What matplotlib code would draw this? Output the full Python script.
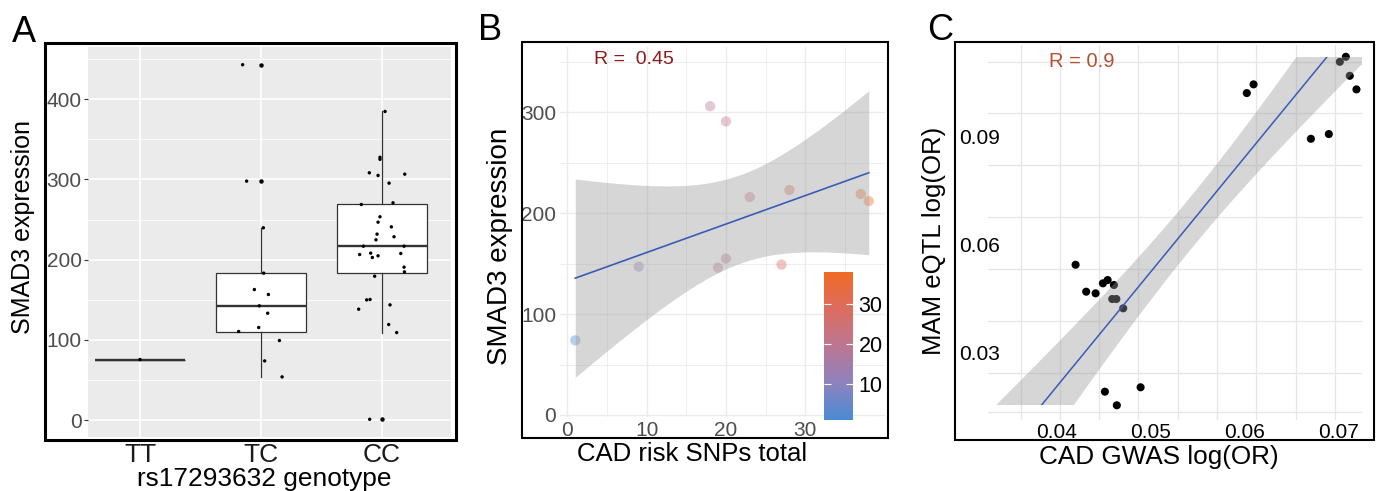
import numpy as np
import matplotlib
matplotlib.use("Agg")
import matplotlib.pyplot as plt
from matplotlib.patches import Rectangle
from matplotlib.colors import LinearSegmentedColormap, Normalize
from matplotlib.cm import ScalarMappable

plt.rcParams['font.family'] = ['Liberation Sans', 'DejaVu Sans']

# ---------------- Data ----------------
# Panel A: SMAD3 expression by genotype
genotypes = ["TT", "TC", "CC"]
tt_vals = [75.6]
tt_jit = [0.0]
tc_vals = [442.8, 297.8, 239.7, 183.2, 162.8, 156.6, 142.5, 133.3, 115.5, 110.5, 99.3, 73.9, 54.0]
tc_jit = [-0.152, -0.119, 0.019, 0.022, -0.055, 0.061, -0.014, 0.055, -0.019, -0.185, 0.152, 0.030, 0.174]
cc_vals = [384.6, 327.5, 325.0, 308.2, 306.5, 304.9, 295.3, 268.7, 270.8, 253.4, 246.7, 240.9,
           231.8, 228.5, 224.7, 216.8, 216.8, 206.4, 208.1, 202.7, 204.8, 207.7, 190.7, 184.8,
           179.4, 149.9, 150.4, 138.3, 143.7, 119.2, 109.2, 1.2]
cc_jit = [0.025, -0.017, -0.017, -0.105, 0.188, -0.033, 0.058, -0.171, 0.091, -0.017, -0.033, 0.077,
          -0.041, 0.099, -0.050, -0.154, 0.182, -0.185, -0.094, -0.080, -0.033, 0.155, 0.182, 0.185,
          -0.061, -0.127, -0.099, -0.193, 0.066, 0.055, 0.121, -0.102]

# Panel B: CAD risk SNPs total vs SMAD3 expression
snps_total = [1, 9, 18, 20, 19, 20, 23, 28, 27, 37, 38]
smad3_expr = [74, 147, 306, 291, 146, 155, 216, 223, 149, 219, 212]
r_b_text = "R =  0.45"

# Panel C: CAD GWAS log(OR) vs MAM eQTL log(OR)
gwas_logor = [0.07078, 0.07014, 0.07120, 0.07191, 0.06096, 0.06024, 0.06897, 0.06706,
              0.04202, 0.04315, 0.04415, 0.04493, 0.04543, 0.04610, 0.04592, 0.04636,
              0.04709, 0.04514, 0.04894, 0.04641]
eqtl_logor = [0.11222, 0.11083, 0.10694, 0.10317, 0.10456, 0.10214, 0.09075, 0.08944,
              0.05444, 0.04695, 0.04650, 0.04928, 0.05019, 0.04881, 0.04492, 0.04492,
              0.04233, 0.01917, 0.02039, 0.01539]
# fitted line as drawn in the chart
fitC_slope = 3.185
fitC_intercept = -0.10684
r_c_text = "R = 0.9"

# ---------------- Figure helpers ----------------
W, H = 1377, 491
fig = plt.figure(figsize=(W / 100, H / 100), dpi=100)


def px_axes(x0, y0, x1, y1):
    return fig.add_axes([x0 / W, 1 - y1 / H, (x1 - x0) / W, (y1 - y0) / H])


def frame(x0, y0, x1, y1, lw):
    fig.patches.append(Rectangle((x0 / W, 1 - y1 / H), (x1 - x0) / W, (y1 - y0) / H,
                                 transform=fig.transFigure, fill=False, lw=lw,
                                 edgecolor='black', zorder=10))


def ftext(x, y, s, **kw):
    fig.text(x / W, 1 - y / H, s, **kw)


def ols_se(x, y, xs):
    x = np.asarray(x, float); y = np.asarray(y, float)
    n = len(x)
    b, a = np.polyfit(x, y, 1)
    res = y - (a + b * x)
    s = np.sqrt(np.sum(res ** 2) / (n - 2))
    sxx = np.sum((x - x.mean()) ** 2)
    se = s * np.sqrt(1 / n + (xs - x.mean()) ** 2 / sxx)
    return a + b * xs, se


ribbon_col = '#999999'
line_col = '#3A5BB8'

# ---------------- Panel A ----------------
axA = px_axes(88, 47, 451, 437)
axA.set_facecolor('#EBEBEB')
for sp in axA.spines.values():
    sp.set_visible(False)
groups = [tt_vals, tc_vals, cc_vals]
jits = [tt_jit, tc_jit, cc_jit]
axA.boxplot(groups, positions=[1, 2, 3], widths=0.75, whis=1.5, patch_artist=True,
            boxprops=dict(facecolor='white', edgecolor='#333333', lw=0.9),
            medianprops=dict(color='#333333', lw=1.7),
            whiskerprops=dict(color='#333333', lw=0.9),
            capprops=dict(visible=False),
            flierprops=dict(marker='o', markerfacecolor='black', markeredgecolor='none',
                            markersize=3.2),
            zorder=2)
for i, (g, j) in enumerate(zip(groups, jits)):
    axA.scatter(np.array(j) + i + 1, g, s=6, c='black', edgecolors='none', zorder=4)
allv = np.concatenate([np.asarray(g) for g in groups])
rng = allv.max() - allv.min()
axA.set_ylim(allv.min() - 0.05 * rng, allv.max() + 0.05 * rng)
axA.set_xlim(0.57, 3.57)
axA.set_yticks([0, 100, 200, 300, 400])
axA.set_yticks([50, 150, 250, 350, 450], minor=True)
axA.set_xticks([1, 2, 3])
axA.set_xticklabels(genotypes)
axA.grid(which='major', color='white', lw=1.2)
axA.grid(which='minor', axis='y', color='white', lw=0.6)
axA.set_axisbelow(True)
axA.tick_params(axis='y', which='major', length=3, width=0.8, color='#333333',
                labelcolor='#4D4D4D', labelsize=15, pad=1.5)
axA.tick_params(axis='y', which='minor', length=0)
axA.tick_params(axis='x', length=0, labelsize=19, labelcolor='#1A1A1A', pad=4)
frame(45, 43, 456, 440, 2.2)
ftext(12, 42, 'A', fontsize=26, va='baseline')
ftext(23, 227, 'SMAD3 expression', fontsize=18, rotation=90, ha='center', va='center')
ftext(264, 486, 'rs17293632 genotype', fontsize=18.9, ha='center', va='baseline')

# ---------------- Panel B ----------------
axB = px_axes(560.2, 46.7, 884.6, 417)
for sp in axB.spines.values():
    sp.set_visible(False)
axB.set_xlim(-0.9, 40.0)
axB.set_ylim(-2, 365)
axB.set_xticks([0, 10, 20, 30])
axB.set_xticks([5, 15, 25, 35], minor=True)
axB.set_yticks([0, 100, 200, 300])
axB.set_yticks([50, 150, 250, 350], minor=True)
axB.grid(which='major', color='#EBEBEB', lw=1.0)
axB.grid(which='minor', color='#EBEBEB', lw=0.6)
axB.set_axisbelow(True)
axB.tick_params(which='both', length=0, labelsize=15, labelcolor='#4D4D4D', pad=3)

cmapB = LinearSegmentedColormap.from_list(
    'cad', [(0.0, '#4A8BD3'), (0.243, '#8C83BF'), (0.514, '#BE7690'),
            (0.784, '#DF6C58'), (1.0, '#F06A24')])
normB = Normalize(vmin=min(snps_total), vmax=max(snps_total))
axB.scatter(snps_total, smad3_expr, c=snps_total, cmap=cmapB, norm=normB, s=55,
            alpha=0.4, edgecolors='none', zorder=3)
xsB = np.linspace(min(snps_total), max(snps_total), 200)
fB, seB = ols_se(snps_total, smad3_expr, xsB)
axB.fill_between(xsB, fB - 2.262 * seB, fB + 2.262 * seB, color=ribbon_col, alpha=0.4,
                 lw=0, zorder=4)
axB.plot(xsB, fB, color=line_col, lw=1.2, zorder=5)
axB.text(3.3, 352, r_b_text, color='#8B1A1A', fontsize=14, ha='left', va='center')

cax = px_axes(824, 272, 853, 420)
cb = fig.colorbar(ScalarMappable(norm=normB, cmap=cmapB), cax=cax)
cb.outline.set_visible(False)
cb.set_ticks([10, 20, 30])
cax.yaxis.set_ticks_position('both')
cax.tick_params(axis='y', direction='in', length=5, width=0.8, color='white',
                labelsize=15.5, labelcolor='black', pad=4, left=True, right=True,
                labelleft=False, labelright=True)

frame(521.7, 41.7, 888.3, 438.3, 1.5)
ftext(478, 40, 'B', fontsize=26, va='baseline')
ftext(500, 246, 'SMAD3 expression', fontsize=20, rotation=90, ha='center', va='center')
ftext(691.7, 454, 'CAD risk SNPs total', fontsize=18.5, ha='center', va='center')

# ---------------- Panel C ----------------
axC = px_axes(988, 45, 1362, 420)
for sp in axC.spines.values():
    sp.set_visible(False)
xlC = (0.0327, 0.0725)
axC.set_xlim(*xlC)
axC.set_ylim(0.0113, 0.1155)
axC.set_xticks([0.04, 0.05, 0.06, 0.07])
axC.set_xticklabels(['0.04', '0.05', '0.06', '0.07'])
axC.set_yticks([0.03, 0.06, 0.09])
axC.set_yticklabels(['0.03', '0.06', '0.09'])
axC.set_xticks(0.03617 + 0.00418 * np.arange(9), minor=True)
axC.set_yticks([0.11083, 0.09650, 0.08206, 0.06761, 0.05317, 0.03872, 0.02428, 0.01344],
               minor=True)
axC.grid(which='major', visible=False)
axC.grid(which='minor', color='#E6E6E6', lw=0.9)
axC.set_axisbelow(True)
axC.tick_params(which='both', length=0, labelsize=15, labelcolor='black')
axC.tick_params(axis='y', pad=-8.6)
axC.tick_params(axis='x', pad=2)

axC.scatter(gwas_logor, eqtl_logor, s=34, c='black', edgecolors='none', zorder=3)
xsC = np.linspace(xlC[0], xlC[1], 300)
_, seC = ols_se(gwas_logor, eqtl_logor, xsC)
fC = fitC_intercept + fitC_slope * xsC
clip = Rectangle((xlC[0], min(eqtl_logor)), xlC[1] - xlC[0],
                 max(eqtl_logor) - min(eqtl_logor), transform=axC.transData)
rib = axC.fill_between(xsC, fC - 2.101 * seC, fC + 2.101 * seC, color=ribbon_col,
                       alpha=0.4, lw=0, zorder=4)
rib.set_clip_path(clip)
ln, = axC.plot(xsC, fC, color=line_col, lw=1.1, zorder=5)
ln.set_clip_path(clip)
axC.text(0.03918, 0.11103, r_c_text, color='#B4512F', fontsize=14.5, ha='left', va='center')

frame(955, 42, 1374, 440, 1.5)
ftext(927, 40, 'C', fontsize=26, va='baseline')
ftext(934, 241, 'MAM eQTL log(OR)', fontsize=18.5, rotation=90, ha='center', va='center')
ftext(1159, 456.7, 'CAD GWAS log(OR)', fontsize=18.8, ha='center', va='center')

fig.savefig('out.png', dpi=100)
